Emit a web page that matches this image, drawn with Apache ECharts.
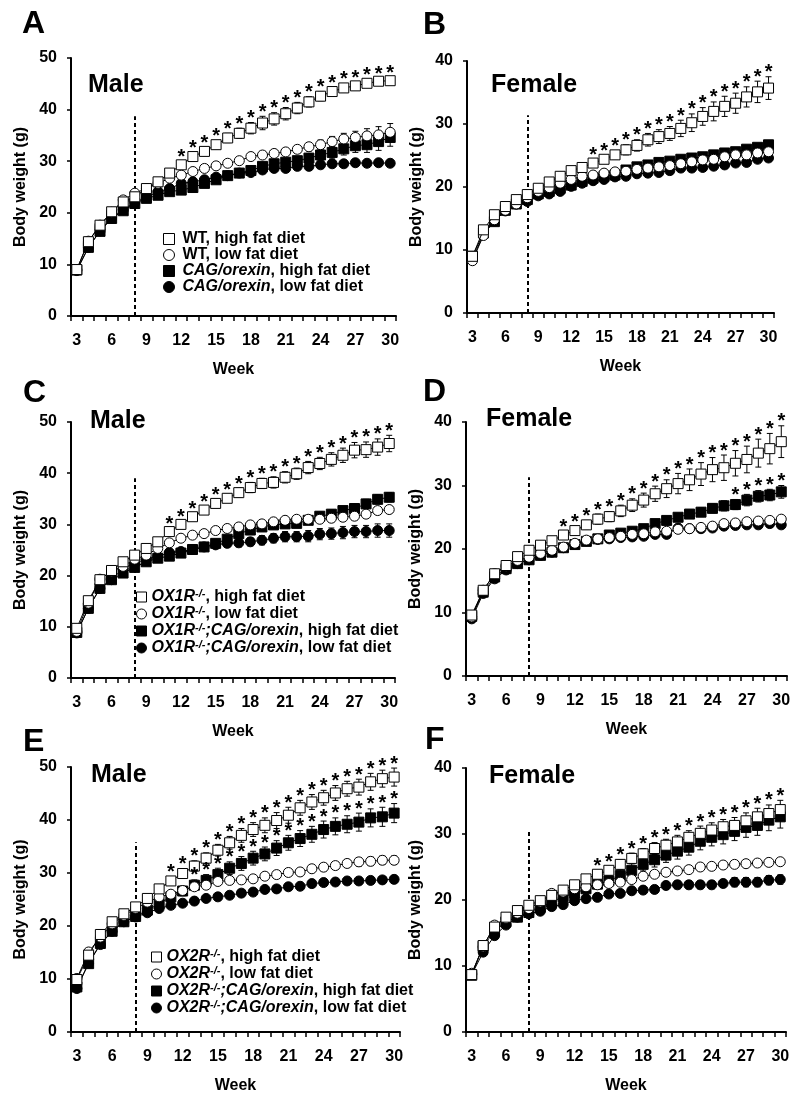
<!DOCTYPE html>
<html><head><meta charset="utf-8">
<script src="https://cdn.jsdelivr.net/npm/echarts@6/dist/echarts.min.js"></script>
<style>html,body{margin:0;padding:0;background:#fff}#c{width:800px;height:1102px}</style>
</head><body><div id="c"></div>
<script>
// ---------- DATA ----------
const weeks = ['3','4','5','6','7','8','9','10','11','12','13','14','15','16','17','18','19','20','21','22','23','24','25','26','27','28','29','30'];

// Panel A (Male, WT / CAG/orexin)
const A_wtHF  = [9.0,14.4,17.6,20.2,22.1,23.1,24.7,26.0,27.7,29.3,30.9,31.9,33.2,34.5,35.4,36.4,37.4,38.2,39.2,40.3,41.5,42.6,43.5,44.2,44.6,45.1,45.5,45.6];
const A_wtLF  = [9.0,14.5,17.6,20.1,22.5,23.8,24.7,25.7,26.7,27.3,28.0,28.6,29.1,29.6,30.1,30.9,31.2,31.5,31.8,32.3,32.8,33.2,33.8,34.3,34.6,34.9,35.1,35.6];
const A_cagHF = [8.9,13.3,16.4,18.9,20.4,21.8,22.8,23.4,24.1,24.4,24.9,25.7,26.4,27.2,27.7,28.2,29.0,29.5,29.8,30.1,30.6,31.2,31.7,32.4,33.0,33.2,33.8,34.6];
const A_cagLF = [8.8,13.3,16.5,19.0,20.6,22.0,23.0,24.1,24.7,25.7,26.0,26.4,26.9,27.2,27.7,27.8,28.3,28.6,28.6,29.0,29.0,29.3,29.5,29.5,29.7,29.6,29.7,29.6];
const A_wtHF_err  = [0.3,0.4,0.4,0.4,0.5,0.5,0.5,0.6,0.6,0.7,0.8,0.8,0.8,0.9,1.0,1.1,1.3,1.2,1.2,1.1,1.0,0.9,0.8,0.8,0.7,0.7,0.6,0.6];
const A_wtLF_err  = [0.3,0.3,0.3,0.3,0.3,0.3,0.3,0.3,0.4,0.4,0.4,0.4,0.4,0.5,0.5,0.5,0.5,0.6,0.6,0.7,0.8,0.9,1.0,1.1,1.2,1.4,1.6,1.7];
const A_cagHF_err = [0.3,0.3,0.3,0.3,0.3,0.3,0.3,0.4,0.4,0.4,0.4,0.5,0.5,0.5,0.5,0.6,0.6,0.7,0.7,0.8,0.9,1.0,1.1,1.2,1.3,1.5,1.7,1.7];
const A_cagLF_err = [0.3,0.3,0.3,0.3,0.3,0.3,0.3,0.3,0.3,0.3,0.3,0.3,0.3,0.3,0.3,0.4,0.4,0.4,0.4,0.4,0.4,0.4,0.4,0.4,0.4,0.4,0.4,0.4];
const A_stars = [12,13,14,15,16,17,18,19,20,21,22,23,24,25,26,27,28,29,30];

// Panel B (Female, WT / CAG/orexin)
const B_wtHF  = [9.0,13.2,15.6,16.9,18.0,18.8,19.8,20.8,21.7,22.6,23.1,23.8,24.4,25.1,25.9,26.6,27.5,28.0,28.5,29.3,30.2,31.2,32.0,32.8,33.3,34.3,35.1,35.7];
const B_wtLF  = [8.3,12.3,14.8,16.3,17.3,18.3,19.3,19.9,20.6,21.2,21.7,21.9,22.2,22.4,22.5,22.8,23.0,23.2,23.4,23.7,24.0,24.3,24.4,24.8,25.1,25.1,25.4,25.6];
const B_cagHF = [9.0,12.7,14.5,16.3,17.3,18.0,18.9,19.3,19.8,20.3,20.9,21.4,21.7,21.9,22.7,23.2,23.5,23.9,24.1,24.4,24.6,24.8,25.1,25.4,25.6,26.0,26.3,26.7];
const B_cagLF = [8.5,12.5,14.6,16.2,17.3,17.7,18.6,18.9,19.3,20.1,20.6,21.0,21.2,21.6,21.7,22.1,22.2,22.3,22.6,23.0,23.0,23.1,23.3,23.5,23.8,23.9,24.4,24.6];
const B_wtHF_err  = [0.3,0.4,0.4,0.4,0.4,0.4,0.4,0.5,0.5,0.5,0.6,0.6,0.6,0.7,0.8,0.9,1.0,1.1,1.1,1.3,1.4,1.4,1.5,1.6,1.6,1.6,1.7,1.8];
const B_wtLF_err  = [0.3,0.3,0.3,0.3,0.3,0.3,0.3,0.3,0.3,0.3,0.3,0.3,0.3,0.3,0.4,0.4,0.4,0.4,0.4,0.4,0.4,0.5,0.5,0.5,0.5,0.5,0.6,0.6];
const B_cagHF_err = [0.3,0.3,0.3,0.3,0.3,0.3,0.3,0.3,0.3,0.3,0.3,0.3,0.3,0.3,0.4,0.4,0.4,0.4,0.4,0.4,0.4,0.4,0.5,0.5,0.5,0.5,0.5,0.5];
const B_cagLF_err = [0.3,0.3,0.3,0.3,0.3,0.3,0.3,0.3,0.3,0.3,0.3,0.3,0.3,0.3,0.3,0.3,0.3,0.3,0.3,0.3,0.4,0.4,0.4,0.4,0.4,0.4,0.4,0.4];
const B_stars = [14,15,16,17,18,19,20,21,22,23,24,25,26,27,28,29,30];

// Panel C (Male, OX1R-/-)
const C_HF    = [9.7,15.1,19.2,21.0,22.7,24.0,25.3,26.6,28.6,30.0,31.5,32.8,34.1,35.1,36.2,37.2,38.0,38.2,39.2,39.9,41.1,41.9,42.7,43.5,44.5,44.6,45.1,45.8];
const C_LF    = [9.1,14.6,19.3,20.8,21.8,23.2,24.0,25.3,26.4,27.3,27.9,28.2,28.8,29.2,29.5,29.9,30.1,30.5,30.8,31.0,31.0,31.0,31.2,31.4,31.6,32.0,32.7,32.9];
const C_cagHF = [8.9,13.6,17.5,19.2,20.5,21.6,22.7,23.4,23.8,24.4,25.1,25.6,26.3,27.1,28.2,28.9,29.5,29.9,30.1,30.2,30.8,31.6,32.0,32.7,33.1,34.0,34.9,35.3];
const C_cagLF = [8.8,13.6,17.5,19.2,21.4,22.4,23.2,23.7,24.5,24.7,25.1,25.6,26.0,26.3,26.4,26.6,26.9,27.3,27.6,27.6,27.7,28.1,28.2,28.4,28.6,28.6,28.8,28.8];
const C_HF_err    = [0.3,0.4,0.4,0.4,0.4,0.5,0.5,0.5,0.6,0.6,0.7,0.7,0.8,0.8,0.9,1.0,1.0,1.1,1.1,1.1,1.2,1.2,1.3,1.4,1.5,1.5,1.6,1.6];
const C_LF_err    = [0.3,0.3,0.3,0.3,0.3,0.3,0.3,0.3,0.4,0.4,0.4,0.4,0.4,0.5,0.5,0.5,0.5,0.5,0.6,0.6,0.6,0.6,0.7,0.7,0.7,0.7,0.7,0.7];
const C_cagHF_err = [0.3,0.3,0.3,0.3,0.3,0.3,0.3,0.3,0.4,0.4,0.4,0.4,0.5,0.5,0.6,0.6,0.6,0.7,0.7,0.7,0.8,0.8,0.8,0.8,0.9,0.9,0.9,0.9];
const C_cagLF_err = [0.3,0.3,0.3,0.3,0.3,0.3,0.4,0.4,0.5,0.5,0.6,0.6,0.7,0.7,0.8,0.8,0.9,0.9,1.0,1.0,1.1,1.1,1.1,1.2,1.2,1.2,1.3,1.3];
const C_stars = [11,12,13,14,15,16,17,18,19,20,21,22,23,24,25,26,27,28,29,30];

// Panel D (Female, OX1R-/-)
const D_HF    = [9.6,13.5,16.1,17.4,18.8,19.8,20.6,21.3,22.2,22.9,23.8,24.7,25.1,26.0,26.9,27.7,28.7,29.5,30.3,30.9,31.8,32.5,32.8,33.5,34.1,35.1,35.8,36.9];
const D_LF    = [9.3,13.5,16.1,17.3,18.2,18.7,19.3,19.8,20.3,20.9,21.4,21.6,21.8,22.0,22.3,22.4,22.7,22.8,23.1,23.2,23.4,23.6,24.0,24.1,24.3,24.4,24.5,24.7];
const D_cagHF = [9.4,13.2,15.6,16.9,17.7,18.3,19.0,19.5,20.2,20.7,21.2,21.6,22.2,22.5,22.8,23.2,24.0,24.5,25.0,25.5,25.8,26.4,26.8,27.0,27.7,28.3,28.5,29.0];
const D_cagLF = [9.0,13.0,15.3,16.7,17.7,18.3,19.0,19.5,20.2,20.8,21.3,21.5,21.6,21.8,21.9,22.0,22.3,22.3,23.3,23.2,23.2,23.3,23.6,23.7,23.8,23.8,24.0,23.8];
const D_HF_err    = [0.3,0.3,0.3,0.3,0.4,0.4,0.4,0.5,0.5,0.6,0.7,0.8,0.8,0.9,1.0,1.1,1.2,1.4,1.6,1.7,1.8,1.9,2.0,2.0,2.1,2.2,2.4,2.5];
const D_LF_err    = [0.3,0.3,0.3,0.3,0.3,0.3,0.3,0.3,0.3,0.3,0.3,0.3,0.3,0.3,0.3,0.3,0.3,0.3,0.4,0.4,0.4,0.4,0.4,0.4,0.4,0.4,0.4,0.4];
const D_cagHF_err = [0.3,0.3,0.3,0.3,0.3,0.3,0.3,0.3,0.3,0.3,0.3,0.4,0.4,0.4,0.4,0.5,0.5,0.5,0.6,0.6,0.7,0.7,0.8,0.8,0.9,0.9,0.9,1.0];
const D_cagLF_err = [0.3,0.3,0.3,0.3,0.3,0.3,0.3,0.3,0.3,0.3,0.3,0.3,0.3,0.3,0.3,0.3,0.3,0.3,0.3,0.3,0.4,0.4,0.4,0.4,0.4,0.4,0.4,0.4];
const D_stars    = [11,12,13,14,15,16,17,18,19,20,21,22,23,24,25,26,27,28,29,30];
const D_starsCAG = [26,27,28,29,30];

// Panel E (Male, OX2R-/-)
const E_HF    = [9.9,14.5,18.4,20.8,22.3,23.6,25.2,27.0,28.5,29.9,31.3,32.8,34.3,35.7,37.1,38.2,39.0,39.9,40.9,42.3,43.4,44.2,45.1,45.9,46.2,47.2,47.8,48.1];
const E_LF    = [10.1,15.1,17.9,20.4,22.0,23.3,24.5,25.5,26.0,26.7,27.4,27.7,28.4,28.6,28.7,28.9,29.4,29.7,30.1,30.2,30.8,31.1,31.4,31.8,32.1,32.2,32.4,32.4];
const E_cagHF = [8.5,12.9,16.7,19.0,20.8,21.8,23.0,24.2,25.5,26.6,27.7,28.6,29.7,30.9,31.8,32.8,33.6,34.7,35.7,36.5,37.3,38.2,38.8,39.2,39.6,40.4,40.6,41.3];
const E_cagLF = [8.2,13.0,16.5,19.0,20.8,21.7,22.5,23.3,23.9,24.3,24.7,25.2,25.5,25.8,26.2,26.4,26.9,27.0,27.4,27.5,28.0,28.2,28.3,28.5,28.5,28.6,28.7,28.8];
const E_HF_err    = [0.3,0.4,0.4,0.4,0.5,0.5,0.6,0.7,0.8,0.9,1.0,1.0,1.1,1.2,1.3,1.3,1.4,1.5,1.5,1.4,1.4,1.4,1.4,1.4,1.5,1.6,1.6,1.7];
const E_LF_err    = [0.3,0.3,0.3,0.3,0.3,0.3,0.3,0.3,0.4,0.4,0.4,0.4,0.5,0.5,0.5,0.5,0.6,0.6,0.6,0.6,0.7,0.7,0.7,0.7,0.8,0.8,0.8,0.8];
const E_cagHF_err = [0.3,0.3,0.4,0.4,0.4,0.5,0.6,0.7,0.8,0.9,1.0,1.1,1.2,1.2,1.3,1.3,1.3,1.4,1.4,1.5,1.5,1.6,1.6,1.6,1.7,1.7,1.8,1.8];
const E_cagLF_err = [0.3,0.3,0.3,0.3,0.3,0.3,0.3,0.3,0.3,0.4,0.4,0.4,0.4,0.4,0.4,0.5,0.5,0.5,0.5,0.5,0.5,0.5,0.6,0.6,0.6,0.6,0.6,0.6];
const E_stars    = [11,12,13,14,15,16,17,18,19,20,21,22,23,24,25,26,27,28,29,30];
const E_starsCAG = [13,14,15,16,17,18,19,20,21,22,23,24,25,26,27,28,29,30];

// Panel F (Female, OX2R-/-)
const F_HF    = [8.7,13.1,15.9,17.4,18.4,19.2,19.9,20.7,21.5,22.3,23.2,23.9,24.5,25.4,26.3,27.0,27.8,28.3,28.8,29.5,30.1,30.6,31.1,31.3,32.0,32.6,33.1,33.7];
const F_LF    = [8.9,12.9,16.2,17.2,18.0,18.7,19.7,21.0,21.2,21.7,22.0,22.3,22.5,22.7,23.1,23.6,23.9,24.2,24.4,24.6,25.0,25.1,25.3,25.4,25.5,25.6,25.7,25.8];
const F_cagHF = [8.6,13.0,15.3,16.7,17.4,18.1,18.9,19.7,20.5,21.0,21.7,22.4,22.9,23.7,24.5,25.4,26.1,26.8,27.4,28.0,28.9,29.5,29.9,30.4,31.0,31.3,32.1,32.6];
const F_cagLF = [8.7,12.1,14.6,16.2,17.4,17.9,18.3,19.0,19.3,19.9,20.2,20.4,20.9,21.0,21.4,21.5,21.6,22.2,22.3,22.3,22.3,22.3,22.5,22.7,22.7,22.7,23.0,23.1];
const F_HF_err    = [0.3,0.3,0.3,0.3,0.3,0.3,0.4,0.4,0.4,0.5,0.5,0.6,0.6,0.7,0.8,0.8,0.9,0.9,1.0,1.0,1.1,1.1,1.1,1.2,1.2,1.3,1.3,1.4];
const F_LF_err    = [0.3,0.3,0.3,0.3,0.3,0.3,0.3,0.3,0.3,0.3,0.3,0.3,0.4,0.4,0.4,0.4,0.4,0.4,0.4,0.5,0.5,0.5,0.5,0.5,0.5,0.5,0.5,0.5];
const F_cagHF_err = [0.3,0.3,0.3,0.3,0.3,0.3,0.4,0.4,0.5,0.5,0.6,0.7,0.8,0.9,1.0,1.0,1.1,1.1,1.2,1.2,1.3,1.3,1.4,1.4,1.5,1.5,1.6,1.7];
const F_cagLF_err = [0.3,0.3,0.3,0.3,0.3,0.3,0.3,0.3,0.4,0.4,0.4,0.4,0.5,0.5,0.5,0.5,0.5,0.6,0.6,0.6,0.6,0.6,0.6,0.7,0.7,0.7,0.7,0.7];
const F_stars = [14,15,16,17,18,19,20,21,22,23,24,25,26,27,28,29,30];

// Legend names
const namesA = ['WT, high fat diet','WT, low fat diet','CAG/orexin, high fat diet','CAG/orexin, low fat diet'];
const namesC = ['OX1R-/-, high fat diet','OX1R-/-, low fat diet','OX1R-/-;CAG/orexin, high fat diet','OX1R-/-;CAG/orexin, low fat diet'];
const namesE = ['OX2R-/-, high fat diet','OX2R-/-, low fat diet','OX2R-/-;CAG/orexin, high fat diet','OX2R-/-;CAG/orexin, low fat diet'];

const panelLetters = ['A','B','C','D','E','F'];
const panelSex = ['Male','Female','Male','Female','Male','Female'];
const yMax = [50,40,50,40,50,40];
const dietStartWeek = '8';
const dashTop = [38.7,31.4,39.0,31.3,35.8,30.3];

// ---------- LAYOUT / STYLE ----------
const FONT = '"Liberation Sans", Arial, Helvetica, sans-serif';
const grids = [
  {left:71, top:58,  width:325, height:258},
  {left:467,top:61,  width:307, height:252},
  {left:71, top:422, width:324, height:256},
  {left:466,top:422, width:321, height:254},
  {left:71, top:767, width:329, height:265},
  {left:466,top:768, width:320, height:264}
];
const letterPos = [[22,8],[423,9],[23,377],[423,376],[23,726],[425,724]];
const sexPos = [[88,73],[491,73],[90,409],[486,407],[91,763],[489,764]];
const legendPos = [{left:163,top:231,w:11,pad:3},null,{left:136,top:588,w:10,pad:0},null,{left:151,top:948,w:10,pad:0},null];

// symbol styles: 0 open square, 1 open circle, 2 filled square, 3 filled circle
const symStyles = [
  {symbol:'rect',   fill:'#fff'},
  {symbol:'circle', fill:'#fff'},
  {symbol:'rect',   fill:'#000'},
  {symbol:'circle', fill:'#000'}
];

const panelSeries = [
  {names:namesA, data:[A_wtHF,A_wtLF,A_cagHF,A_cagLF], err:[A_wtHF_err,A_wtLF_err,A_cagHF_err,A_cagLF_err], stars:[A_stars,[],[],[]]},
  {names:namesA.map(n=>'B '+n), data:[B_wtHF,B_wtLF,B_cagHF,B_cagLF], err:[B_wtHF_err,B_wtLF_err,B_cagHF_err,B_cagLF_err], stars:[B_stars,[],[],[]]},
  {names:namesC, data:[C_HF,C_LF,C_cagHF,C_cagLF], err:[C_HF_err,C_LF_err,C_cagHF_err,C_cagLF_err], stars:[C_stars,[],[],[]]},
  {names:namesC.map(n=>'D '+n), data:[D_HF,D_LF,D_cagHF,D_cagLF], err:[D_HF_err,D_LF_err,D_cagHF_err,D_cagLF_err], stars:[D_stars,[],D_starsCAG,[]]},
  {names:namesE, data:[E_HF,E_LF,E_cagHF,E_cagLF], err:[E_HF_err,E_LF_err,E_cagHF_err,E_cagLF_err], stars:[E_stars,[],E_starsCAG,[]]},
  {names:namesE.map(n=>'F '+n), data:[F_HF,F_LF,F_cagHF,F_cagLF], err:[F_HF_err,F_LF_err,F_cagHF_err,F_cagLF_err], stars:[F_stars,[],[],[]]}
];
// drawing order (later on top)
const drawOrder = [3,2,1,0];

function richName(name){
  const parts = name.split(/(OX[12]R-\/-|;?CAG\/orexin)/).filter(s=>s.length);
  return parts.map(p=>{
    const m = p.match(/^(OX[12]R)-\/-$/);
    if (m) return '{i|'+m[1]+'}{s|-/-}';
    if (/CAG\/orexin/.test(p)) return '{i|'+p+'}';
    return '{b|'+p+'}';
  }).join('');
}
const rich = {
  b:{fontFamily:FONT,fontWeight:'bold',fontSize:16,color:'#000',lineHeight:18},
  i:{fontFamily:FONT,fontWeight:'bold',fontStyle:'italic',fontSize:16,color:'#000',lineHeight:18},
  s:{fontFamily:FONT,fontWeight:'bold',fontStyle:'italic',fontSize:11,color:'#000',lineHeight:10,verticalAlign:'top'}
};

const option = {animation:false, backgroundColor:'#fff', grid:[], xAxis:[], yAxis:[], series:[], legend:[], graphic:[]};

panelSeries.forEach((p, gi) => {
  const g = grids[gi];
  option.grid.push({left:g.left, top:g.top, width:g.width, height:g.height, containLabel:false});
  option.xAxis.push({
    type:'category', gridIndex:gi, data:weeks, boundaryGap:true,
    name:'Week', nameLocation:'middle', nameGap:46,
    nameTextStyle:{fontFamily:FONT,fontWeight:'bold',fontSize:16,color:'#000'},
    axisLine:{show:true,lineStyle:{color:'#000',width:2}},
    axisTick:{show:true,interval:0,length:5,inside:false,lineStyle:{color:'#000',width:1.5}},
    axisLabel:{interval:2,margin:17,color:'#000',fontFamily:FONT,fontWeight:'bold',fontSize:16},
    splitLine:{show:false}
  });
  option.yAxis.push({
    type:'value', gridIndex:gi, min:0, max:yMax[gi], interval:10,
    name:'Body weight (g)', nameLocation:'middle', nameGap:42,
    nameTextStyle:{fontFamily:FONT,fontWeight:'bold',fontSize:16,color:'#000'},
    axisLine:{show:true,lineStyle:{color:'#000',width:2}},
    axisTick:{show:true,length:4,lineStyle:{color:'#000',width:1.5}},
    axisLabel:{margin:14,color:'#000',fontFamily:FONT,fontWeight:'bold',fontSize:16},
    splitLine:{show:false}
  });

  drawOrder.forEach((si, k) => {
    const vals = p.data[si], errs = p.err[si], st = symStyles[si];
    // error bars
    option.series.push({
      type:'custom', xAxisIndex:gi, yAxisIndex:gi, z:2, silent:true,
      data: vals.map((v,i)=>[i, v, errs[i]]),
      renderItem:(params, api)=>{
        const i = api.value(0), v = api.value(1), e = api.value(2);
        const t = api.coord([i, v+e]), b = api.coord([i, v-e]);
        const cw = 3, ls = {stroke:'#000', lineWidth:1};
        return {type:'group', children:[
          {type:'line', shape:{x1:t[0],y1:t[1],x2:b[0],y2:b[1]}, style:ls},
          {type:'line', shape:{x1:t[0]-cw,y1:t[1],x2:t[0]+cw,y2:t[1]}, style:ls},
          {type:'line', shape:{x1:b[0]-cw,y1:b[1],x2:b[0]+cw,y2:b[1]}, style:ls}
        ]};
      }
    });
    const line = {
      type:'line', name:p.names[si], xAxisIndex:gi, yAxisIndex:gi, z:3+k,
      data: vals, symbol:st.symbol, symbolSize:10,
      showAllSymbol:true,
      lineStyle:{color:'#000',width:1},
      itemStyle:{color:st.fill, borderColor:'#000', borderWidth:1, opacity:1},
      emphasis:{disabled:true}, silent:true
    };
    if (k===0) {
      line.markLine = {
        silent:true, symbol:['none','none'], label:{show:false},
        lineStyle:{color:'#000', width:2, type:[4,3]},
        data:[[{coord:[weeks.indexOf(dietStartWeek),0]},{coord:[weeks.indexOf(dietStartWeek),dashTop[gi]]}]]
      };
    }
    option.series.push(line);
  });

  // asterisks
  [0,1,2,3].forEach(si=>{
    const sw = p.stars[si];
    if (!sw.length) return;
    const vals = p.data[si], errs = p.err[si];
    option.series.push({
      type:'custom', xAxisIndex:gi, yAxisIndex:gi, z:10, silent:true,
      data: sw.map(w=>{const i = weeks.indexOf(String(w)); return [i, vals[i]+errs[i]];}),
      renderItem:(params, api)=>{
        const c = api.coord([api.value(0), api.value(1)]);
        return {type:'text', x:c[0], y:c[1]-4, style:{text:'*', fill:'#000', font:'bold 20px '+FONT, align:'center', verticalAlign:'middle'}};
      }
    });
  });

  // legend
  const lp = legendPos[gi];
  if (lp) {
    option.legend.push({
      show:true, orient:'vertical', left:lp.left, top:lp.top, itemWidth:lp.w, itemHeight:lp.w, itemGap:0,
      selectedMode:false, padding:0,
      data: [0,1,2,3].map(si=>({name:p.names[si], icon:symStyles[si].symbol,
        itemStyle:{color:symStyles[si].fill, borderColor:'#000', borderWidth:1}})),
      formatter: richName,
      textStyle:{fontFamily:FONT,fontWeight:'bold',fontSize:16,color:'#000',rich:rich,padding:[0,0,0,lp.pad]}
    });
  }

  option.graphic.push(
    {type:'text', left:letterPos[gi][0], top:letterPos[gi][1], style:{text:panelLetters[gi], font:'bold 32px '+FONT, fill:'#000'}},
    {type:'text', left:sexPos[gi][0], top:sexPos[gi][1], style:{text:panelSex[gi], font:'bold 25px '+FONT, fill:'#000'}}
  );
});

const chart = echarts.init(document.getElementById('c'), null, {renderer:'canvas'});
chart.setOption(option);
</script></body></html>
